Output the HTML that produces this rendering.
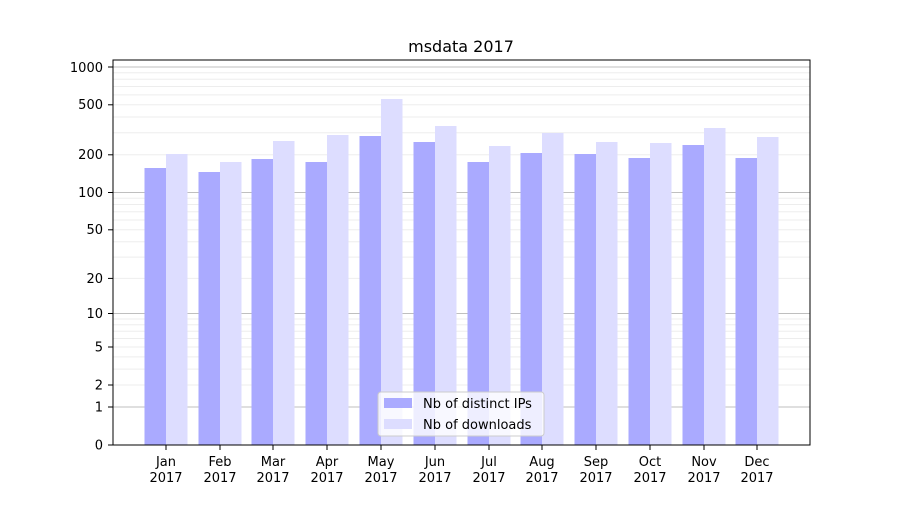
<!DOCTYPE html>
<html><head><meta charset="utf-8"><style>
body{margin:0;background:#fff}
svg text{font-family:"DejaVu Sans","Liberation Sans",sans-serif;fill:#000}
</style></head><body>
<svg width="900" height="500" xmlns="http://www.w3.org/2000/svg">
<rect width="900" height="500" fill="#fff"/>
<g stroke="#000" stroke-opacity="0.07" stroke-width="1">
<line x1="113" x2="810" y1="385" y2="385"/><line x1="113" x2="810" y1="369.1" y2="369.1"/><line x1="113" x2="810" y1="356.9" y2="356.9"/><line x1="113" x2="810" y1="347" y2="347"/><line x1="113" x2="810" y1="338.5" y2="338.5"/><line x1="113" x2="810" y1="331.2" y2="331.2"/><line x1="113" x2="810" y1="324.8" y2="324.8"/><line x1="113" x2="810" y1="319" y2="319"/>
<line x1="113" x2="810" y1="278.4" y2="278.4"/><line x1="113" x2="810" y1="257.1" y2="257.1"/><line x1="113" x2="810" y1="241.8" y2="241.8"/><line x1="113" x2="810" y1="229.8" y2="229.8"/><line x1="113" x2="810" y1="220" y2="220"/><line x1="113" x2="810" y1="211.7" y2="211.7"/><line x1="113" x2="810" y1="204.5" y2="204.5"/><line x1="113" x2="810" y1="198.2" y2="198.2"/>
<line x1="113" x2="810" y1="154.8" y2="154.8"/><line x1="113" x2="810" y1="132.8" y2="132.8"/><line x1="113" x2="810" y1="117" y2="117"/><line x1="113" x2="810" y1="104.8" y2="104.8"/><line x1="113" x2="810" y1="94.9" y2="94.9"/><line x1="113" x2="810" y1="86.5" y2="86.5"/><line x1="113" x2="810" y1="79.2" y2="79.2"/><line x1="113" x2="810" y1="72.8" y2="72.8"/>
</g>
<g stroke="#000" stroke-opacity="0.25" stroke-width="1">
<line x1="113" x2="810" y1="407" y2="407"/><line x1="113" x2="810" y1="313.5" y2="313.5"/><line x1="113" x2="810" y1="192.5" y2="192.5"/><line x1="113" x2="810" y1="67" y2="67"/>
</g>
<g id="bars"></g>
<rect x="113" y="60" width="697" height="385" fill="none" stroke="#000" stroke-width="1"/>
<text x="461" y="52" font-size="16" text-anchor="middle">msdata 2017</text>
<g font-size="13" text-anchor="end">
<text x="103" y="449.5">0</text><text x="103" y="411.5">1</text><text x="103" y="389.5">2</text><text x="103" y="351.5">5</text><text x="103" y="318">10</text><text x="103" y="283">20</text><text x="103" y="234">50</text><text x="103" y="197">100</text><text x="103" y="159">200</text><text x="103" y="109">500</text><text x="103" y="72">1000</text>
</g>
<g stroke="#000"><line x1="108" x2="113" y1="445" y2="445"/><line x1="108" x2="113" y1="407" y2="407"/><line x1="108" x2="113" y1="385" y2="385"/><line x1="108" x2="113" y1="347" y2="347"/><line x1="108" x2="113" y1="313.5" y2="313.5"/><line x1="108" x2="113" y1="278.4" y2="278.4"/><line x1="108" x2="113" y1="229.8" y2="229.8"/><line x1="108" x2="113" y1="192.5" y2="192.5"/><line x1="108" x2="113" y1="154.8" y2="154.8"/><line x1="108" x2="113" y1="104.8" y2="104.8"/><line x1="108" x2="113" y1="67" y2="67"/></g>
<g id="xl" font-size="13" text-anchor="middle"></g>
<g>
<rect x="378" y="392" width="166" height="44" rx="3" fill="#fff" fill-opacity="0.8" stroke="#ccc"/>
<rect x="384" y="398" width="28" height="10" fill="#aaaaff"/>
<rect x="384" y="419" width="28" height="10" fill="#ddddff"/>
<text x="423" y="408" font-size="13">Nb of distinct IPs</text>
<text x="423" y="429" font-size="13">Nb of downloads</text>
</g>
</svg>
<script>
var c=[166,220,273,327,381,435,489,542,596,650,704,757];
var a=[168,172,159,162,136,142,162,153,154,158,145,158];
var b=[154,162,141,135,99,126,146,133,142,143,128,137];
var m=["Jan","Feb","Mar","Apr","May","Jun","Jul","Aug","Sep","Oct","Nov","Dec"];
var ns="http://www.w3.org/2000/svg",g=document.getElementById("bars"),xl=document.getElementById("xl");
function r(x,y,w,h,f){var e=document.createElementNS(ns,"rect");e.setAttribute("x",x);e.setAttribute("y",y);e.setAttribute("width",w);e.setAttribute("height",h);e.setAttribute("fill",f);g.appendChild(e);}
function t(x,y,s){var e=document.createElementNS(ns,"text");e.setAttribute("x",x);e.setAttribute("y",y);e.textContent=s;xl.appendChild(e);}
for(var i=0;i<12;i++){r(c[i]-21.5,a[i],21.5,445-a[i],"#aaaaff");r(c[i],b[i],21.5,445-b[i],"#ddddff");
var l=document.createElementNS(ns,"line");l.setAttribute("x1",c[i]);l.setAttribute("x2",c[i]);l.setAttribute("y1",445);l.setAttribute("y2",450);l.setAttribute("stroke","#000");xl.appendChild(l);
t(c[i],466,m[i]);t(c[i],482,"2017");}
</script>
</body></html>
